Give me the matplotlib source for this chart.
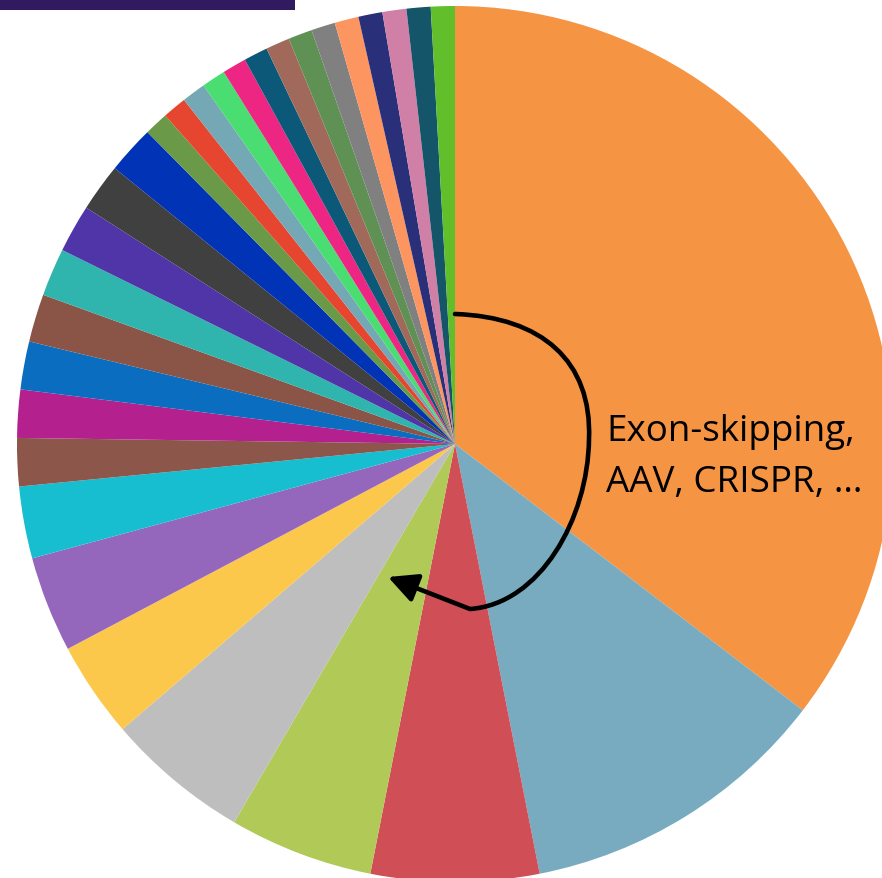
import matplotlib
matplotlib.use("Agg")
import matplotlib.pyplot as plt
from matplotlib.path import Path
from matplotlib.patches import FancyArrowPatch, Rectangle

# Data: slice counts (clockwise from 12 o'clock)
values = [40, 13, 7, 6, 6, 4, 4, 3,
          2, 2, 2, 2, 2, 2, 2, 2,
          1, 1, 1, 1, 1, 1, 1, 1, 1, 1, 1, 1, 1, 1]
colors = ["#F59443", "#78ABBF", "#D04E55", "#B0C957", "#BEBEBE", "#FCC84B", "#9467BD", "#17BECF",
          "#8C564B", "#B5208F", "#0A6DBF", "#8A5547", "#2FB5AE", "#5035A8", "#404040", "#0033B5",
          "#6A9A47", "#E64530", "#74A8B5", "#4ADD71", "#EC2682", "#0B5878", "#A0695A", "#5F9155",
          "#808080", "#FC9560", "#2A2F7A", "#D07FA6", "#14556A", "#63BE2C"]
label_lines = ["Exon-skipping,", "AAV, CRISPR, \u2026"]

W, H = 882, 879
CX, CY, R = 455, 445, 438

fig = plt.figure(figsize=(W / 100, H / 100), dpi=100)
ax = fig.add_axes([0, 0, 1, 1])
ax.pie(values, colors=colors, startangle=90, counterclock=False, radius=1,
       wedgeprops=dict(linewidth=0))
ax.set_xlim(-CX / R, (W - CX) / R)
ax.set_ylim(-(H - CY) / R, CY / R)
ax.set_aspect('equal')
ax.axis('off')

def p(px, py):
    return ((px - CX) / R, (CY - py) / R)

# top-left dark bar
x0, y0 = p(0, 11)
x1, y1 = p(295, 0)
ax.add_patch(Rectangle((x0, y0), x1 - x0, y1 - y0, color="#321A60", lw=0, clip_on=False))

# annotation curve with arrow
verts = [p(455, 315), p(542, 318), p(592, 362), p(589, 440),
         p(588, 520), p(540, 605), p(470, 610), p(388, 578)]
codes = [Path.MOVETO, Path.CURVE4, Path.CURVE4, Path.CURVE4,
         Path.CURVE4, Path.CURVE4, Path.CURVE4, Path.LINETO]
arrow = FancyArrowPatch(path=Path(verts, codes), arrowstyle='-|>,head_length=0.8,head_width=0.4',
                        mutation_scale=22, color='black', lw=3.3)
ax.add_patch(arrow)

tx, ty = p(606, 441)
ax.text(tx, ty, label_lines[0], fontsize=26.5, family="Open Sans", va='baseline', ha='left')
tx, ty = p(606, 492)
ax.text(tx, ty, label_lines[1], fontsize=26.5, family="Open Sans", va='baseline', ha='left')

fig.savefig("out.png", dpi=100)
